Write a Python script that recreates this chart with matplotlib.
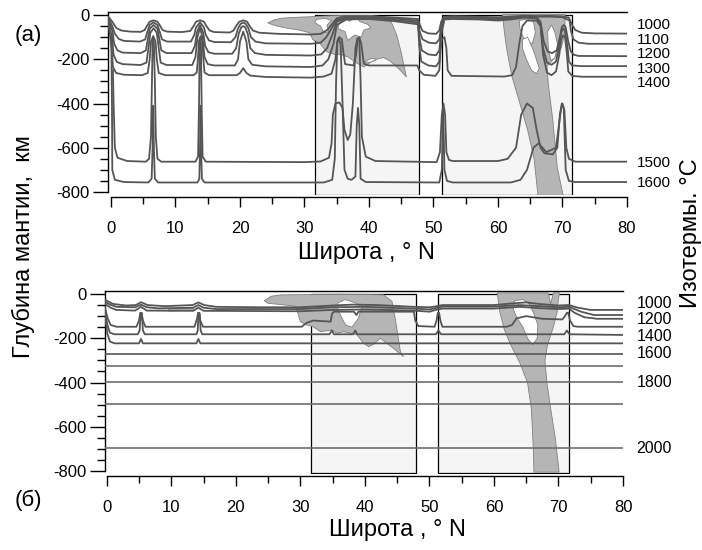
import matplotlib.pyplot as plt
from matplotlib.patches import Polygon, Rectangle
from matplotlib.ticker import MultipleLocator

plt.rcParams['font.family'] = ['Liberation Sans', 'DejaVu Sans']
plt.rcParams['axes.unicode_minus'] = False

# ---- panel (a): isotherms as (latitude, depth km) ----
iso_a_1000 = [(-0.4, -8), (0.2, -30), (0.8, -58), (1.6, -70), (3, -75), (4.6, -76), (5.2, -68), (5.6, -48),
              (6.0, -30), (6.6, -24), (7.2, -30), (7.6, -48), (8.0, -68), (8.7, -75), (11, -77), (12.3, -72),
              (12.8, -50), (13.2, -30), (13.8, -24), (14.4, -30), (14.8, -50), (15.3, -70), (16, -77), (18.4, -79),
              (19.0, -70), (19.5, -45), (19.9, -30), (20.5, -24), (21.1, -30), (21.5, -50), (22.0, -70), (23, -80),
              (26, -85), (31, -88), (32.5, -85), (33.5, -68), (34.3, -40), (35, -15), (36, -6), (39, -5), (43, -10),
              (46, -15), (47.6, -18), (47.9, -45), (48.3, -72), (49.2, -83), (50.4, -85), (50.9, -70), (51.2, -30),
              (51.6, -8), (53, -5), (57, -8), (60, -10), (62, -7), (64, -3), (66, -5), (68, -4), (70, -6),
              (71.0, -12), (71.4, -40), (72.0, -68), (73, -80), (75, -83), (80, -84)]
iso_a_1100 = [(-0.4, -15), (0.2, -50), (0.6, -85), (1.2, -108), (2, -117), (4.5, -120), (5.3, -110), (5.6, -80),
              (6.0, -45), (6.6, -33), (7.2, -45), (7.6, -80), (7.9, -110), (8.7, -120), (12.4, -120), (12.9, -90),
              (13.2, -55), (13.8, -33), (14.4, -55), (14.7, -90), (15.2, -115), (16, -122), (18.6, -123),
              (19.3, -100), (19.7, -60), (20.1, -40), (20.5, -34), (20.9, -40), (21.3, -60), (21.7, -100),
              (22.4, -120), (24, -128), (31, -130), (32.5, -125), (33.4, -100), (34.2, -60), (35, -22), (36.5, -10),
              (40, -9), (44, -16), (47.6, -26), (47.8, -70), (48.3, -110), (49.3, -125), (50.4, -128), (50.9, -110),
              (51.2, -50), (51.7, -12), (53, -9), (57, -12), (60, -15), (62, -11), (64, -6), (66, -8), (68, -7),
              (70, -10), (71.1, -25), (71.3, -70), (71.7, -110), (72.5, -125), (74, -130), (80, -130)]
iso_a_1200 = [(-0.4, -22), (0.2, -70), (0.5, -130), (1.0, -160), (1.8, -170), (4.6, -172), (5.4, -160), (5.7, -110),
              (6.0, -62), (6.6, -45), (7.2, -62), (7.5, -110), (7.8, -160), (8.6, -172), (12.5, -172), (13.0, -140),
              (13.3, -80), (13.8, -45), (14.3, -80), (14.6, -140), (15.1, -168), (16, -175), (18.8, -175),
              (19.4, -150), (19.8, -85), (20.2, -55), (20.5, -50), (20.8, -55), (21.2, -85), (21.6, -150),
              (22.3, -172), (24, -180), (31, -183), (32.6, -178), (33.5, -150), (34.3, -90), (35, -30), (36.5, -14),
              (40, -13), (44, -22), (47.6, -34), (47.8, -100), (48.2, -160), (49.2, -178), (50.4, -182), (50.9, -160),
              (51.2, -70), (51.7, -16), (53, -13), (57, -16), (60, -20), (62, -15), (64, -9), (66, -12), (66.6, -30),
              (67.1, -120), (67.7, -165), (68.4, -172), (69.1, -160), (69.6, -100), (69.9, -55), (70.2, -45),
              (70.5, -55), (70.9, -120), (71.3, -165), (71.8, -180), (72.5, -185), (80, -186)]
iso_a_1300 = [(-0.4, -30), (0.15, -100), (0.4, -180), (0.9, -212), (1.8, -222), (4.6, -226), (5.5, -215),
              (5.8, -150), (6.1, -80), (6.6, -60), (7.1, -80), (7.4, -150), (7.7, -215), (8.6, -226), (12.6, -226),
              (13.1, -190), (13.4, -100), (13.8, -60), (14.2, -100), (14.5, -190), (15.0, -222), (16, -228),
              (19.2, -228), (19.7, -200), (20.0, -120), (20.5, -75), (21.0, -120), (21.3, -200), (21.9, -225),
              (24, -232), (31, -235), (32.8, -228), (33.7, -200), (34.5, -130), (35, -45), (36.5, -20), (40, -18),
              (44, -28), (47.6, -42), (47.8, -140), (48.1, -210), (49.2, -228), (50.4, -232), (50.9, -210),
              (51.2, -90), (51.7, -20), (53, -18), (57, -20), (60, -25), (62, -20), (64, -12), (66, -15),
              (66.6, -40), (67.0, -150), (67.6, -215), (68.3, -225), (69.0, -210), (69.5, -140), (69.8, -80),
              (70.1, -60), (70.4, -70), (70.8, -150), (71.0, -210), (71.5, -228), (73, -231), (80, -231)]
iso_a_1400 = [(-0.4, -40), (0.1, -150), (0.3, -235), (0.8, -262), (2, -270), (4.8, -272), (5.7, -262), (6.0, -200),
              (6.2, -120), (6.55, -95), (6.9, -120), (7.1, -200), (7.4, -262), (8.4, -272), (12.8, -272),
              (13.3, -260), (13.5, -190), (13.65, -115), (13.9, -95), (14.15, -115), (14.3, -190), (14.5, -260),
              (15.2, -272), (19.5, -272), (20.0, -262), (20.5, -240), (21.0, -262), (21.6, -274), (24, -280),
              (31, -283), (33, -278), (34.2, -265), (34.8, -200), (35.1, -120), (35.4, -100), (35.8, -110),
              (36.0, -160), (36.3, -222), (37.6, -228), (38.0, -180), (38.2, -120), (38.5, -100), (38.8, -130),
              (39.2, -220), (40, -228), (47.5, -228), (47.8, -250), (48.5, -270), (50.3, -275), (50.9, -250),
              (51.1, -160), (51.3, -110), (51.7, -100), (52.0, -150), (52.2, -250), (52.8, -275), (61, -278),
              (62.2, -272), (62.8, -235), (63.3, -130), (63.8, -50), (64.5, -25), (66, -25), (66.6, -50),
              (67.0, -180), (67.6, -260), (68.3, -272), (69.0, -255), (69.5, -180), (69.8, -110), (70.1, -92),
              (70.4, -100), (70.7, -180), (70.9, -255), (71.5, -275), (73, -279), (80, -279)]
iso_a_1500 = [(0.3, -250), (0.4, -400), (0.6, -600), (1.0, -645), (2.5, -660), (5.4, -663), (5.9, -650), (6.2, -550),
              (6.35, -300), (6.45, -130), (6.55, -105), (6.65, -130), (6.8, -300), (6.95, -550), (7.2, -650),
              (7.8, -663), (13.1, -663), (13.5, -640), (13.65, -400), (13.75, -130), (13.85, -105), (13.95, -130),
              (14.05, -400), (14.2, -640), (14.7, -663), (30, -665), (32.5, -662), (33.8, -645), (34.2, -580),
              (34.4, -450), (34.8, -400), (35.4, -395), (35.9, -420), (36.2, -520), (36.7, -565), (37.1, -540),
              (37.5, -400), (37.9, -150), (38.2, -105), (38.5, -110), (38.7, -300), (38.9, -550), (39.5, -640),
              (41, -660), (50.5, -665), (51.0, -620), (51.3, -450), (51.55, -400), (51.8, -450), (52.0, -620),
              (52.4, -655), (53, -660), (60, -660), (61.5, -650), (62.8, -600), (63.6, -450), (64.5, -400),
              (65.4, -420), (66.0, -520), (66.6, -600), (67.2, -625), (68.5, -630), (69.2, -600), (69.6, -450),
              (69.9, -400), (70.3, -430), (70.6, -600), (71, -650), (72, -663), (80, -663)]
iso_a_1600 = [(0.05, -100), (0.15, -400), (0.2, -700), (0.6, -745), (2, -755), (5.8, -757), (6.3, -740),
              (6.45, -600), (6.55, -410), (6.65, -600), (6.8, -740), (7.3, -757), (13.4, -757), (13.7, -740),
              (13.8, -600), (13.88, -410), (13.96, -600), (14.1, -740), (14.5, -757), (33, -757), (34.3, -745),
              (34.7, -650), (34.9, -300), (35.1, -120), (35.3, -105), (35.6, -130), (35.9, -400), (36.2, -700),
              (36.7, -740), (37.3, -745), (37.9, -730), (38.1, -500), (38.3, -420), (38.5, -500), (38.7, -740),
              (39.5, -755), (50.9, -757), (51.3, -700), (51.5, -420), (51.7, -700), (52.1, -750), (53, -757),
              (62, -757), (63.5, -745), (64.5, -700), (65.5, -600), (66.3, -580), (67.5, -620), (69, -600),
              (69.8, -420), (70.0, -400), (70.2, -420), (70.5, -700), (71, -750), (72, -755), (80, -755)]

# anomaly zones (a)
gray_a_crust = [(24.3, -36), (25.3, -22), (26.5, -14), (29, -10), (31.5, -7), (33.5, -4), (36, -2), (40, -2),
                (42.6, -8), (43.5, -35), (44.3, -90), (45.0, -170), (45.8, -280), (44.7, -245), (43.3, -208),
                (42.2, -192), (41.2, -200), (40.2, -215), (39.2, -235), (38.0, -215), (36.8, -190), (35.8, -180),
                (34.6, -178), (33.4, -165), (32.3, -125), (31.3, -112), (30.8, -80), (29.2, -68), (27, -58),
                (25.5, -48)]
gray_a_slab = [(60.7, 2), (61.0, -80), (61.4, -160), (62.1, -270), (63.4, -400), (64.6, -520), (65.6, -650),
               (66.2, -815), (70.1, -815), (69.2, -690), (68.5, -474), (67.8, -310), (67.6, -230), (68.6, -200),
               (69.8, -150), (70.4, -80), (70.4, 2)]
white_a = [
    [(35.4, -35), (36.2, -18), (37.0, -28), (38.0, -8), (38.6, -30), (39.8, -42), (40.3, -58), (39.2, -68),
     (38.8, -100), (37.8, -90), (36.7, -115), (36.3, -75), (35.2, -62)],
    [(31.8, -20), (33.2, -15), (34.2, -25), (33.5, -45), (33.8, -75), (33.0, -80), (32.5, -50), (31.6, -35)],
    [(39.2, -212), (40.4, -196), (41.2, -200), (40.2, -214)],
    [(63.3, -25), (64.5, -18), (65.5, -30), (65.8, -80), (65.3, -130), (64.6, -120), (63.9, -100), (63.4, -60)],
    [(63.8, -110), (64.6, -100), (65.5, -160), (66.4, -240), (66.0, -265), (65.2, -250), (64.4, -200), (63.8, -150)],
    [(67.7, -75), (68.3, -45), (68.8, -75), (69.3, -140), (68.8, -195), (68.2, -205), (67.8, -150)],
]
boxes_a = [(31.6, 47.8), (51.3, 71.5)]

# ---- panel (б) ----
iso_b_1000 = [(-0.3, -25), (0.3, -35), (1, -45), (3, -52), (4.5, -50), (5.0, -42), (5.3, -37), (5.7, -42),
              (6.3, -50), (9, -55), (13.3, -50), (14.2, -38), (15.1, -50), (17, -58), (24, -60), (30, -60),
              (35, -52), (38, -48), (42, -50), (47.6, -58), (50, -60), (51.2, -55), (52, -50), (60, -50), (63, -42),
              (65, -38), (67, -45), (70, -52), (71.6, -50), (73, -62), (75, -72), (80, -72)]
iso_b_1100 = [(-0.3, -35), (0.5, -48), (1.5, -58), (4.4, -60), (5.3, -48), (6.2, -60), (8, -65), (13.4, -62),
              (14.2, -50), (15.0, -62), (17, -68), (30, -68), (35, -60), (40, -58), (47.6, -66), (50, -70),
              (51.2, -62), (52, -57), (60, -57), (64, -50), (67, -55), (70, -60), (71.6, -58), (73.5, -80),
              (75.5, -95), (80, -95)]
iso_b_1200 = [(-0.3, -45), (0.6, -62), (1.5, -72), (4.4, -75), (5.3, -58), (6.2, -75), (13.4, -76), (14.2, -62),
              (15.0, -76), (30, -78), (35, -72), (40, -70), (47.6, -75), (50, -80), (51.2, -70), (52, -66),
              (60, -66), (64, -58), (67, -64), (70, -68), (71.6, -66), (72.5, -85), (74, -105), (76, -112),
              (80, -112)]
iso_b_1300 = [(-0.3, -60), (0.15, -110), (0.6, -140), (1.5, -148), (4.6, -148), (5.0, -120), (5.2, -85),
              (5.4, -85), (5.6, -120), (6.0, -148), (13.6, -148), (14.0, -110), (14.15, -85), (14.35, -85),
              (14.5, -120), (14.9, -148), (30.2, -148), (31, -130), (32, -120), (34.7, -125), (34.9, -90),
              (35.2, -80), (38.3, -80), (38.7, -95), (39, -80), (47.6, -80), (47.8, -120), (48.3, -145),
              (50.8, -148), (51.1, -120), (51.3, -85), (51.5, -85), (51.7, -120), (52.0, -148), (62, -148),
              (62.8, -140), (63.5, -110), (65, -100), (67.5, -112), (70.6, -115), (71.0, -100), (71.3, -85),
              (71.5, -85), (71.8, -120), (72.3, -145), (73, -148), (80, -148)]
iso_b_1400 = [(-0.3, -70), (0.1, -140), (0.5, -175), (1.2, -182), (4.8, -182), (5.1, -165), (5.25, -88),
              (5.45, -88), (5.6, -165), (5.9, -182), (13.9, -182), (14.1, -165), (14.2, -90), (14.4, -90),
              (14.55, -165), (14.8, -182), (34.5, -182), (34.9, -165), (35.2, -182), (38.2, -182), (38.5, -165),
              (38.8, -182), (51.0, -182), (51.4, -165), (51.8, -182), (70.9, -182), (71.3, -165), (71.7, -182),
              (80, -185)]
iso_b_1500 = [(-0.3, -90), (0.1, -180), (0.5, -215), (1.2, -223), (5.0, -223), (5.3, -203), (5.6, -223),
              (13.9, -223), (14.2, -203), (14.5, -223), (80, -223)]
# deeper isotherms run flat across the section
deep_b_temps = [1600, 1700, 1800, 1900, 2000]
deep_b_depths = [-271, -324, -396, -496, -697]

gray_b_crust = [(24.4, -30), (25.5, -10), (27, -4), (31.3, -2), (36, -1), (40, -2), (42.9, -4), (44.2, -34),
                (44.7, -110), (45.5, -260), (46.0, -283), (44.4, -245), (42.4, -200), (41.3, -228), (40.6, -238),
                (39.8, -223), (38.8, -185), (36.7, -170), (35.7, -178), (34.9, -163), (33.1, -170), (32.0, -148),
                (31.0, -140), (30.0, -125), (29.6, -85), (29.2, -55), (27, -48), (25, -42)]
gray_b_strip = [(9.6, -66), (13.4, -63), (13.4, -74), (9.6, -77)]
gray_b_slab = [(60.5, 5), (60.9, -80), (61.6, -160), (62.6, -230), (64.0, -310), (65.2, -400), (65.8, -520),
               (66.1, -700), (66.2, -805), (70.1, -805), (69.5, -650), (68.8, -520), (68.2, -400), (67.9, -300),
               (68.3, -230), (69.2, -150), (69.8, -80), (70.0, -20), (70.2, 5), (69.2, 5), (68.8, -45), (68.4, 5)]
white_b = [
    [(35.8, -40), (37, -25), (38.5, -40), (39.5, -60), (39, -110), (38, -150), (37, -140), (36.3, -100), (35.8, -70)],
    [(63.2, -30), (64.5, -25), (65.5, -45), (66.2, -90), (66.8, -140), (66.7, -200), (66.0, -230), (65.2, -200),
     (64.5, -150), (63.6, -110), (63.0, -70)],
]
boxes_b = [(31.6, 47.9), (51.3, 71.6)]

labels_a = ['1000', '1100', '1200', '1300', '1400', '1500', '1600']
label_depth_a = [-45, -111, -176, -242, -307, -669, -759]
labels_b = ['1000', '1200', '1400', '1600', '1800', '2000']
label_depth_b = [-41, -113, -194, -267, -402, -696]

line_color = '#555555'

fig = plt.figure(figsize=(7.02, 5.5), dpi=100)
ax_a = fig.add_axes([0.1538, 0.6449, 0.7393, 0.3338])
ax_b = fig.add_axes([0.1493, 0.1375, 0.7382, 0.3336])


def setup(g, x0, top):
    g.set_xlim(x0, 80)
    g.set_ylim(-815, top)
    g.spines['right'].set_visible(False)
    g.spines['left'].set_bounds(-800, top)
    g.spines['bottom'].set_position(('outward', 1.5))
    g.spines['bottom'].set_bounds(0, 80)
    for s in g.spines.values():
        s.set_linewidth(1.0)
    g.xaxis.set_major_locator(MultipleLocator(10))
    g.xaxis.set_minor_locator(MultipleLocator(5))
    g.yaxis.set_major_locator(MultipleLocator(200))
    g.yaxis.set_minor_locator(MultipleLocator(50))
    g.tick_params(axis='y', which='major', length=11, width=1, pad=2, labelsize=12)
    g.tick_params(axis='y', which='minor', length=6, width=1)
    g.tick_params(axis='x', which='major', length=7, width=1, pad=10, labelsize=12)
    g.tick_params(axis='x', which='minor', length=5, width=1)


def draw_section(g, boxes, box_bottom, grays, whites, lines):
    for lo, hi in boxes:
        g.add_patch(Rectangle((lo, box_bottom), hi - lo, -box_bottom,
                              facecolor='#f5f5f5', edgecolor='black', lw=0.9, zorder=1))
    for poly in grays:
        g.add_patch(Polygon(poly, closed=True, facecolor='#b5b5b5', edgecolor='#808080', lw=0.6, zorder=2))
    for poly in whites:
        g.add_patch(Polygon(poly, closed=True, facecolor='white', edgecolor='#808080', lw=0.6, zorder=3))
    for pts in lines:
        xs = [p[0] for p in pts]
        ys = [p[1] for p in pts]
        g.plot(xs, ys, color=line_color, lw=1.3, zorder=4, solid_joinstyle='round')


setup(ax_a, -0.47, 15)
setup(ax_b, -0.3, 14)

draw_section(ax_a, boxes_a, -815, [gray_a_crust, gray_a_slab], white_a,
             [iso_a_1000, iso_a_1100, iso_a_1200, iso_a_1300, iso_a_1400, iso_a_1500, iso_a_1600])
draw_section(ax_b, boxes_b, -808, [gray_b_crust, gray_b_strip, gray_b_slab], white_b,
             [iso_b_1000, iso_b_1100, iso_b_1200, iso_b_1300, iso_b_1400, iso_b_1500])
for t, d in zip(deep_b_temps, deep_b_depths):
    ax_b.plot([-0.3, 80], [d, d], color=line_color if t == 1600 else '#6e6e6e', lw=1.2, zorder=4)

for txt, d in zip(labels_a, label_depth_a):
    ax_a.text(81.5, d, txt, fontsize=11, ha='left', va='center', clip_on=False)
for txt, d in zip(labels_b, label_depth_b):
    ax_b.text(82.1, d, txt, fontsize=11.5, ha='left', va='center', clip_on=False)

fig.text(366 / 702, 1 - 253 / 550, 'Широта , ° N', fontsize=17, ha='center', va='center')
fig.text(397 / 702, 1 - 530 / 550, 'Широта , ° N', fontsize=17, ha='center', va='center')
fig.text(23 / 702, 1 - 247 / 550, 'Глубина мантии,  км', fontsize=17, rotation=90, ha='center', va='center')
fig.text(691 / 702, 1 - 233 / 550, 'Изотермы. °C', fontsize=17, rotation=90, ha='center', va='center')
fig.text(28 / 702, 1 - 35 / 550, '(a)', fontsize=16, ha='center', va='center')
fig.text(28 / 702, 1 - 500 / 550, '(б)', fontsize=16, ha='center', va='center')

plt.savefig('out.png', dpi=100)
